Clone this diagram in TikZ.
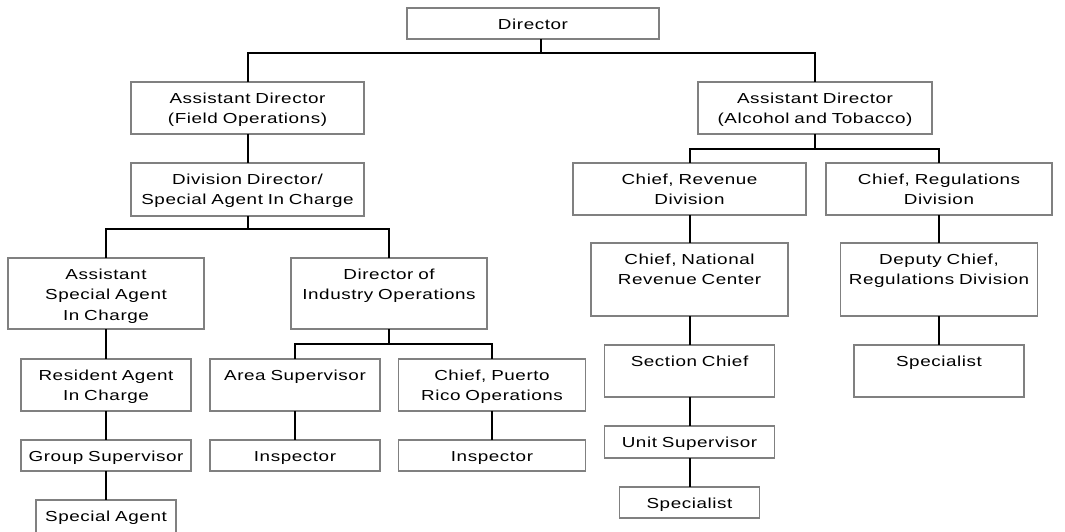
\documentclass[tikz,border=0pt]{standalone}
\usepackage{fontspec}
\setmainfont{Liberation Sans}[FakeStretch=1.3,LetterSpace=4]
\usetikzlibrary{calc}
\tikzset{post/.style={draw=gray, line width=1.2pt, inner sep=0pt, outer sep=0pt,
         align=center, anchor=north, text height=21pt,
         font=\fontsize{14.5}{20.5}\selectfont},
         link/.style={line width=2pt},
         thinlink/.style={line width=1.4pt}}

\begin{document}
\begin{tikzpicture}[x=1pt,y=-1pt]
\useasboundingbox (0,0) rectangle (1065,531);

\node [post, text width=252pt, text depth=10pt] (dir) at (533,8) {Director};

% field operations
\node [post, text width=233pt, text depth=31pt] (adf) at (247.5,82) {Assistant Director\\(Field Operations)};
\node [post, text width=233pt, text depth=32pt] (ddir) at (247.5,163) {Division Director/\\Special Agent In Charge};
\node [post, text width=196pt, text depth=50pt] (asac) at (106,258) {Assistant\\Special Agent\\In Charge};
\node [post, text width=196pt, text depth=50pt] (dio) at (389,258) {Director of\\Industry Operations};
\node [post, text width=170pt, text depth=31pt] (raic) at (106,359) {Resident Agent\\In Charge};
\node [post, text width=170pt, text depth=10pt] (gs) at (106,440) {Group Supervisor};
\node [post, text width=140pt, text depth=12pt] (sa) at (106,500) {Special Agent};
\node [post, text width=170pt, text depth=31pt] (as) at (295,359) {Area Supervisor};
\node [post, text width=187pt, text depth=31pt] (cpr) at (492,359) {Chief, Puerto\\Rico Operations};
\node [post, text width=170pt, text depth=10pt] (insa) at (295,440) {Inspector};
\node [post, text width=187pt, text depth=10pt] (insb) at (492,440) {Inspector};

% alcohol and tobacco
\node [post, text width=234pt, text depth=31pt] (ada) at (815,82) {Assistant Director\\(Alcohol and Tobacco)};
\node [post, text width=233pt, text depth=31pt] (crev) at (689.5,163) {Chief, Revenue\\Division};
\node [post, text width=226pt, text depth=31pt] (creg) at (939,163) {Chief, Regulations\\Division};
\node [post, text width=197pt, text depth=52pt] (cnrc) at (689.5,243) {Chief, National\\Revenue Center};
\node [post, text width=197pt, text depth=52pt] (dep) at (939,243) {Deputy Chief,\\Regulations Division};
\node [post, text width=170pt, text depth=31pt] (sc) at (689.5,345) {Section Chief};
\node [post, text width=170pt, text depth=31pt] (spb) at (939,345) {Specialist};
\node [post, text width=170pt, text depth=11pt] (us) at (689.5,426) {Unit Supervisor};
\node [post, text width=140pt, text depth=10pt] (spa) at (689.5,487) {Specialist};

\draw [link] ([xshift=8pt]dir.south) -- ++(0,14) -| (adf.north);
\draw [link] ([xshift=8pt]dir.south) ++(0,14) -| (ada.north);
\draw [link] (adf) -- (ddir);
\draw [link] (ddir.south) -- ++(0,13) -| (asac.north);
\draw [link] (ddir.south) ++(0,13) -| (dio.north);
\draw [thinlink] (asac) -- (raic);
\draw [thinlink] (raic) -- (gs);
\draw [thinlink] (gs) -- (sa);
\draw [link] (dio.south) -- ++(0,15) -| (as.north);
\draw [link] (dio.south) ++(0,15) -| (cpr.north);
\draw [link] (as) -- (insa);
\draw [link] (cpr) -- (insb);

\draw [link] (ada.south) -- ++(0,15) -| (crev.north);
\draw [link] (ada.south) ++(0,15) -| (creg.north);
\draw [link] (crev) -- (cnrc);
\draw [link] (cnrc) -- (sc);
\draw [link] (sc) -- (us);
\draw [link] (us) -- (spa);
\draw [thinlink] (creg) -- (dep);
\draw [thinlink] (dep) -- (spb);
\end{tikzpicture}
\end{document}
